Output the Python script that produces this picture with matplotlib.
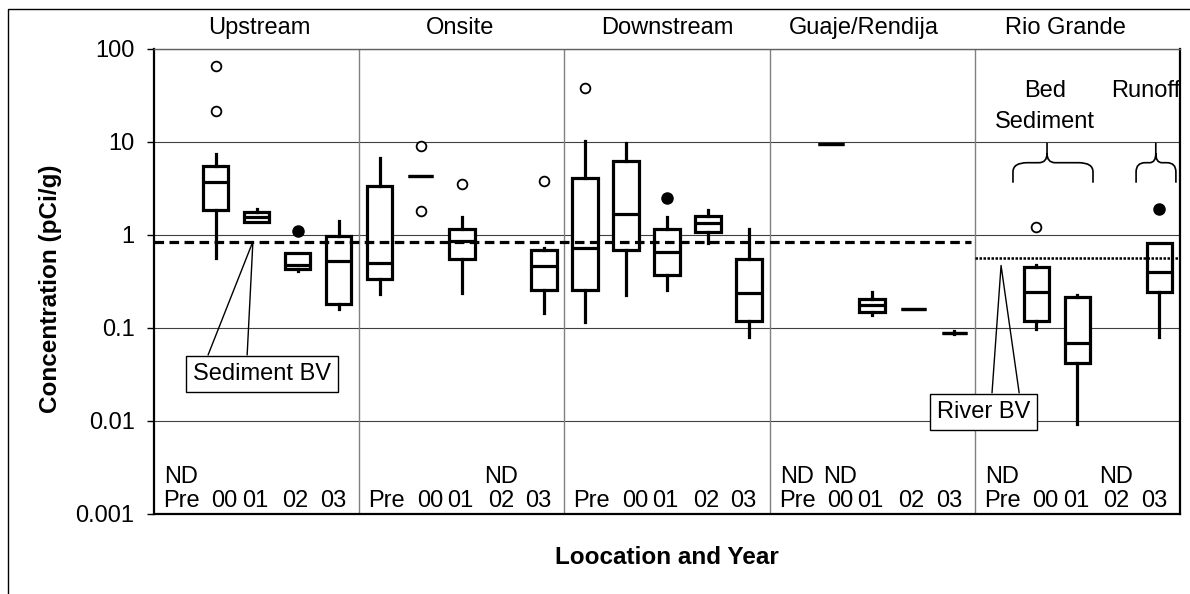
"""
plot.py - Box plots of concentration by location and year (log scale).
"""

import numpy as np
import matplotlib

matplotlib.use("Agg")
import matplotlib.pyplot as plt
from matplotlib.path import Path
from matplotlib.patches import PathPatch, Rectangle
from matplotlib.transforms import blended_transform_factory

plt.rcParams["font.family"] = ["Liberation Sans", "DejaVu Sans"]

####################################################
# Data
####################################################

groups = ["Upstream", "Onsite", "Downstream", "Guaje/Rendija", "Rio Grande"]
years = ["Pre", "00", "01", "02", "03"]

# one entry per location/year, None = no box (non-detect)
whis_lo = [None, 0.57, 1.37, 0.41, 0.159,
           0.232, 4.34, 0.24, None, 0.144,
           0.117, 0.226, 0.256, 0.815, 0.081,
           None, 9.5, 0.138, 0.16, 0.086,
           None, 0.097, 0.0093, None, 0.081]
q1 = [None, 1.86, 1.37, 0.43, 0.181,
      0.34, 4.34, 0.547, None, 0.256,
      0.256, 0.69, 0.369, 1.09, 0.12,
      None, 9.5, 0.15, 0.16, 0.089,
      None, 0.12, 0.0417, None, 0.246]
med = [None, 3.74, 1.57, 0.475, 0.53,
       0.50, 4.34, 0.87, None, 0.468,
       0.72, 1.68, 0.66, 1.34, 0.236,
       None, 9.5, 0.177, 0.16, 0.089,
       None, 0.246, 0.0695, None, 0.40]
q3 = [None, 5.5, 1.78, 0.645, 0.975,
      3.36, 4.34, 1.17, None, 0.69,
      4.1, 6.25, 1.17, 1.61, 0.547,
      None, 9.5, 0.203, 0.16, 0.089,
      None, 0.457, 0.214, None, 0.815]
whis_hi = [None, 7.4, 1.9, 0.645, 1.43,
           6.7, 4.34, 1.55, None, 0.72,
           10.3, 9.7, 1.55, 1.86, 1.17,
           None, 9.5, 0.246, 0.16, 0.092,
           None, 0.475, 0.226, None, 0.815]

# outliers (category index, value)
open_idx = [1, 1, 6, 6, 7, 9, 10, 21]
open_val = [65, 21.5, 9.06, 1.81, 3.5, 3.81, 37.8, 1.23]
filled_idx = [3, 12, 24]
filled_val = [1.11, 2.5, 1.89]

# non-detect flags
nd_idx = [0, 8, 15, 16, 20, 23]

sediment_bv = 0.85
river_bv = 0.56

y_ticks = [0.001, 0.01, 0.1, 1, 10, 100]
y_tick_labels = ["0.001", "0.01", "0.1", "1", "10", "100"]

####################################################
# Figure
####################################################

W, H = 1190, 594
FS = 17

fig = plt.figure(figsize=(W / 100, H / 100), dpi=100)

# chart area frame (runs off the right / bottom edge)
fig.add_artist(
    Rectangle(
        (8 / W, -0.1),
        1.2,
        1 - 9 / H + 0.1,
        transform=fig.transFigure,
        fill=False,
        edgecolor="black",
        linewidth=1.0,
    )
)

ax = fig.add_axes([154 / W, 1 - 514 / H, (1180 - 154) / W, 465 / H])

n = len(groups) * len(years)

ax.set_yscale("log")
ax.set_ylim(0.001, 100)
ax.set_xlim(-0.5, n - 0.5)

####################################################
# Boxes
####################################################

stats = []
positions = []

for i in range(n):

    if med[i] is None:
        continue

    stats.append(
        dict(
            med=med[i],
            q1=q1[i],
            q3=q3[i],
            whislo=whis_lo[i],
            whishi=whis_hi[i],
            fliers=[],
        )
    )
    positions.append(i)

ax.bxp(
    stats,
    positions=positions,
    widths=0.62,
    showfliers=False,
    showcaps=False,
    patch_artist=True,
    boxprops=dict(facecolor="white", edgecolor="black", linewidth=2.3),
    whiskerprops=dict(color="black", linewidth=2.3),
    medianprops=dict(color="black", linewidth=2.3),
    zorder=3,
)

ax.plot(
    open_idx,
    open_val,
    "o",
    mfc="white",
    mec="black",
    ms=7,
    mew=1.3,
    zorder=4,
)

ax.plot(
    filled_idx,
    filled_val,
    "o",
    mfc="black",
    mec="black",
    ms=8,
    zorder=4,
)

####################################################
# Background values
####################################################

ax.hlines(
    sediment_bv,
    -0.5,
    19.4,
    colors="black",
    linewidth=2.3,
    linestyles=(0, (3, 1.7)),
    zorder=5,
)

ax.hlines(
    river_bv,
    19.5,
    n - 0.5,
    colors="black",
    linewidth=1.8,
    linestyles=(0, (1, 0.6)),
    zorder=5,
)

####################################################
# Axes styling
####################################################

ax.set_yticks(y_ticks)
ax.set_yticklabels(y_tick_labels)
ax.yaxis.set_minor_locator(matplotlib.ticker.NullLocator())
ax.tick_params(axis="y", direction="out", length=5, width=1, pad=9, labelsize=FS)
ax.set_xticks([])

ax.grid(axis="y", which="major", color="#404040", linewidth=0.8, zorder=0)
ax.set_axisbelow(True)

for g in range(1, len(groups)):
    ax.axvline(g * len(years) - 0.5, color="#808080", linewidth=1.0, zorder=1)

for side in ["left", "bottom", "right"]:
    ax.spines[side].set_linewidth(1.6)
    ax.spines[side].set_color("black")

ax.spines["top"].set_linewidth(1.0)
ax.spines["top"].set_color("#606060")

trans = blended_transform_factory(ax.transData, ax.transAxes)

# location titles above the plot
title_x = [2.06, 6.96, 12.01, 16.8, 21.71]

for x, name in zip(title_x, groups):
    ax.text(x, 1.033, name, transform=trans, ha="center", va="baseline", fontsize=FS)

# year labels inside the plot (typed as one spaced line in the original)
label_shift = [0.17, 0.22, -0.04, -0.05, -0.13]

for i in range(n):
    ax.text(
        i + label_shift[i % len(years)],
        0.015,
        years[i % len(years)],
        transform=trans,
        ha="center",
        va="baseline",
        fontsize=FS,
    )

for i in nd_idx:
    ax.text(
        i + label_shift[i % len(years)],
        0.067,
        "ND",
        transform=trans,
        ha="center",
        va="baseline",
        fontsize=FS,
    )

####################################################
# Annotations
####################################################

ax.text(
    2.13,
    0.0323,
    "Sediment BV",
    ha="center",
    va="center",
    fontsize=FS,
    zorder=6,
    bbox=dict(boxstyle="square,pad=0.3", facecolor="white", edgecolor="black", linewidth=1.0),
)
ax.plot([0.82, 1.91, 1.77], [0.0516, 0.85, 0.0516], color="black", linewidth=1.0, zorder=6)

ax.text(
    19.71,
    0.01244,
    "River BV",
    ha="center",
    va="center",
    fontsize=FS,
    zorder=6,
    bbox=dict(boxstyle="square,pad=0.3", facecolor="white", edgecolor="black", linewidth=1.0),
)
ax.plot([19.92, 20.14, 20.58], [0.0202, 0.47, 0.0202], color="black", linewidth=1.0, zorder=6)

ax.text(21.22, 1 - (96.7 - 49) / 465, "Bed", transform=trans, ha="center", va="baseline", fontsize=FS)
ax.text(21.22, 1 - (128 - 49) / 465, "Sediment", transform=trans, ha="center", va="baseline", fontsize=FS)
ax.text(23.66, 1 - (96.7 - 49) / 465, "Runoff", transform=trans, ha="center", va="baseline", fontsize=FS)


def _brace(x0, x1, xt, y_end, y_arm, y_tip, dx_end, dx_tip):
    """Curly brace pointing up, drawn in data coords (log y)."""

    y_c1 = 10 ** (np.log10(y_arm) - 0.1)
    y_c2 = 10 ** (np.log10(y_arm) + 0.1)

    verts = [
        (x0, y_end), (x0, y_c1),
        (x0, y_arm), (x0 + dx_end, y_arm),
        (xt - dx_tip, y_arm),
        (xt, y_arm), (xt, y_c2),
        (xt, y_tip),
        (xt, y_c2),
        (xt, y_arm), (xt + dx_tip, y_arm),
        (x1 - dx_end, y_arm),
        (x1, y_arm), (x1, y_c1),
        (x1, y_end),
    ]
    codes = [
        Path.MOVETO, Path.LINETO,
        Path.CURVE3, Path.CURVE3,
        Path.LINETO,
        Path.CURVE3, Path.CURVE3,
        Path.LINETO,
        Path.MOVETO,
        Path.CURVE3, Path.CURVE3,
        Path.LINETO,
        Path.CURVE3, Path.CURVE3,
        Path.LINETO,
    ]

    ax.add_patch(
        PathPatch(Path(verts, codes), facecolor="none", edgecolor="black", linewidth=1.2, zorder=6)
    )


_brace(20.43, 22.38, 21.26, 3.65, 5.99, 9.83, 0.35, 0.2)
_brace(23.43, 24.40, 23.91, 3.65, 5.99, 9.83, 0.22, 0.15)

####################################################
# Axis titles
####################################################

fig.text(
    50 / W,
    1 - 289 / H,
    "Concentration (pCi/g)",
    rotation=90,
    ha="center",
    va="center",
    fontsize=17.5,
    fontweight="bold",
)

fig.text(
    667 / W,
    1 - 564 / H,
    "Loocation and Year",
    ha="center",
    va="baseline",
    fontsize=17.5,
    fontweight="bold",
)

fig.savefig("out.png", dpi=100)
plt.close(fig)
